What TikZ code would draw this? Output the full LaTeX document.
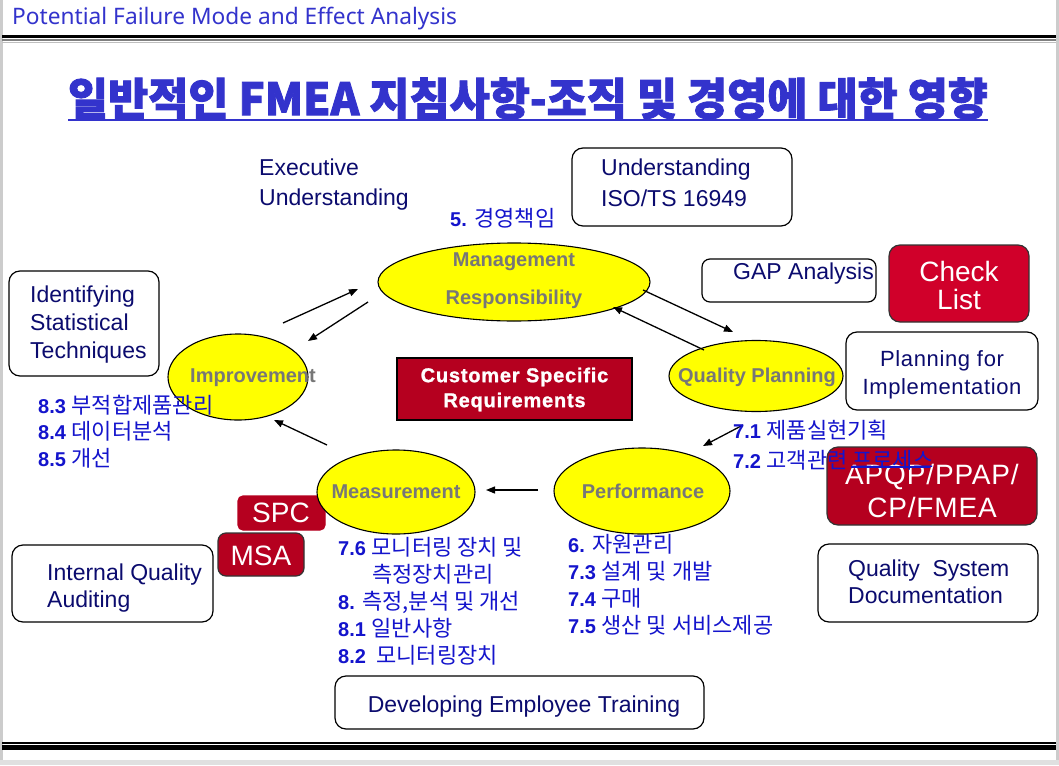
\documentclass[tikz,border=0pt]{standalone}
\usepackage{fontspec}
\setmainfont{Liberation Sans}
\newfontfamily\kr{Noto Sans CJK KR}
\newfontfamily\krt[FakeBold=2]{Noto Sans CJK KR}
\newfontfamily\hdr{Noto Sans}
\newfontfamily\spaced[LetterSpace=3]{Liberation Sans}
\newfontfamily\wideb[LetterSpace=4,FakeBold=1.2]{Liberation Sans}
\usetikzlibrary{shapes.geometric,arrows.meta}
\definecolor{hdrblue}{HTML}{3333CC}
\definecolor{navy}{HTML}{0B0B6E}
\definecolor{elgray}{HTML}{777777}
\definecolor{kblue}{HTML}{1414CC}
\definecolor{redA}{HTML}{D0002A}
\definecolor{redB}{HTML}{B5001F}
\definecolor{yel}{HTML}{FFFF00}
\tikzset{
  yellip/.style={ellipse, draw=black, line width=1.1pt, fill=yel, inner sep=0pt},
  etxt/.style={font=\fontsize{20}{20}\selectfont\bfseries, text=elgray, inner sep=0pt},
  wbox/.style={draw=black, line width=1.2pt, rounded corners=11pt, fill=white, inner sep=0pt},
  rbox/.style={draw=black!80, line width=1.2pt, rounded corners=8pt, inner sep=0pt},
  btxt/.style={font=\fontsize{23}{28}\selectfont, text=navy, align=left, inner sep=0pt},
  wtxt/.style={font=\fontsize{28}{28}\selectfont, text=white, align=center, inner sep=0pt},
  ktxt/.style={font=\fontsize{20}{27}\selectfont, text=kblue, align=left, inner sep=0pt},
  arr/.style={line width=1.3pt, -{Triangle[length=9pt,width=7pt]}},
}
\newcommand{\kn}[2]{\textbf{#1} {\kr\fontsize{22}{27}\selectfont #2}}
\begin{document}
\begin{tikzpicture}[x=1pt,y=-1pt]
\useasboundingbox (0,0) rectangle (1059,765);
\fill[white] (0,0) rectangle (1059,765);
% frame edges
\fill[black!20] (0,0) rectangle (2.5,760);
\fill[black!20] (1056,0) rectangle (1059,760);
\fill[black!12] (0,760) rectangle (1059,765);
% top rules
\fill[black] (2,35) rectangle (1056,38);
\fill[black!50] (2,38.7) rectangle (1056,41.3);
\fill[black!25] (2,41.6) rectangle (1056,42.6);
% bottom rules
\fill[black] (2,742.3) rectangle (1056,743.6);
\fill[black] (2,745) rectangle (1056,749.7);
% header
\node[anchor=west, inner sep=0pt, text=hdrblue, font=\hdr\fontsize{22.7}{23}\selectfont] (hdr) at (12,18.5) {Potential Failure Mode and Effect Analysis};
% title
\node[inner sep=0pt, text=hdrblue] (title) at (528,98.5) {\resizebox*{920pt}{42pt}{\krt\bfseries 일반적인 FMEA 지침사항-조직 및 경영에 대한 영향}};
\draw[hdrblue, line width=2.5pt] (68,120) coordinate (ul1) -- (988,120) coordinate (ul2);

% white boxes
\node[wbox, minimum width=150pt, minimum height=105pt] (bstat) at (84,323.5) {};
\node[wbox, minimum width=220pt, minimum height=78pt] (biso) at (682,187) {};
\node[wbox, minimum width=174pt, minimum height=43pt, rounded corners=8pt] (bgap) at (789,280.5) {};
\node[wbox, minimum width=192pt, minimum height=78pt] (bplan) at (942,371) {};
\node[wbox, minimum width=220pt, minimum height=78pt] (bqsd) at (928,583) {};
\node[wbox, minimum width=201pt, minimum height=77pt] (bint) at (112.5,583.5) {};
\node[wbox, minimum width=369pt, minimum height=53pt] (bdev) at (519.5,702.5) {};
% red boxes
\node[rbox, fill=redA, minimum width=140pt, minimum height=77pt, rounded corners=11pt] (bcheck) at (959,283.5) {};
\node[rbox, fill=redB, minimum width=210pt, minimum height=78pt, rounded corners=11pt] (bapqp) at (932,486) {};
\node[rbox, fill=redB, draw=redB, minimum width=87pt, minimum height=34pt, rounded corners=5pt] (bspc) at (281.5,513) {};
\node[rbox, fill=redB, minimum width=86pt, minimum height=43pt] (bmsa) at (261,554.5) {};
\node[draw=black, line width=1.2pt, fill=redB, minimum width=235pt, minimum height=62pt, inner sep=0pt] (bcsr) at (514.5,389) {};

% ellipses
\node[yellip, minimum width=272pt, minimum height=78pt] (mgmt) at (514,282) {};
\node[yellip, minimum width=140pt, minimum height=86pt] (impr) at (238,377) {};
\node[yellip, minimum width=174pt, minimum height=71pt] (qp) at (756,376) {};
\node[yellip, minimum width=176pt, minimum height=86pt] (perf) at (642,491) {};
\node[yellip, minimum width=158pt, minimum height=84pt] (meas) at (396,492) {};

% arrows
\coordinate (a1s) at (283,323); \coordinate (a1e) at (358,289);
\coordinate (a2s) at (368,302); \coordinate (a2e) at (308,341);
\coordinate (a3s) at (643,290); \coordinate (a3e) at (733,332);
\coordinate (a4s) at (704,350); \coordinate (a4e) at (613,307);
\coordinate (a5s) at (743,425); \coordinate (a5e) at (703,446);
\coordinate (a6s) at (538,490); \coordinate (a6e) at (486,490);
\coordinate (a7s) at (327,445); \coordinate (a7e) at (274,420);
\draw[arr] (a1s) -- (a1e);
\draw[arr] (a2s) -- (a2e);
\draw[arr] (a3s) -- (a3e);
\draw[arr] (a4s) -- (a4e);
\draw[arr] (a5s) -- (a5e);
\draw[arr] (a6s) -- (a6e);
\draw[arr] (a7s) -- (a7e);

% ellipse labels
\node[etxt] (tmg1) at (514,262) {Management};
\node[etxt] (tmg2) at (514,299) {Responsibility};
\node[etxt] (timp) at (253,378) {Improvement};
\node[etxt] (tqp) at (757,377) {Quality Planning};
\node[etxt] (tperf) at (643,491) {Performance};
\node[etxt] (tmeas) at (396,492) {Measurement};

% box texts
\node[btxt, anchor=west] (tstat) at (30,325) {Identifying\\Statistical\\Techniques};
\node[btxt, anchor=west, font=\fontsize{23}{30}\selectfont] (texec) at (259,185) {Executive\\Understanding};
\node[btxt, anchor=west, font=\fontsize{23}{31}\selectfont] (tiso) at (601,183) {Understanding\\ISO/TS 16949};
\node[btxt, anchor=west] (tgap) at (733,274) {GAP Analysis};
\node[btxt, align=center, font=\spaced\fontsize{22}{28}\selectfont] (tplan) at (942,375) {Planning for\\Implementation};
\node[btxt, anchor=west, font=\fontsize{23}{27}\selectfont] (tqsd) at (848,582) {Quality\ \ System\\Documentation};
\node[btxt, anchor=west, font=\fontsize{23}{27}\selectfont] (tint) at (47,588) {Internal Quality\\Auditing};
\node[btxt] (tdev) at (524,707) {Developing Employee Training};
\node[wtxt] (tcheck) at (959,285) {Check\\List};
\node[wtxt, font=\spaced\fontsize{28}{33}\selectfont] (tapqp) at (932,490.5) {APQP/PPAP/\\CP/FMEA};
\node[wtxt] (tspc) at (281,513) {SPC};
\node[wtxt] (tmsa) at (261,556) {MSA};
\node[wtxt, font=\wideb\bfseries\fontsize{20}{25}\selectfont] (tcsr) at (514.5,389.5) {Customer Specific\\Requirements};

% Korean clause texts
\node[ktxt, anchor=west] (k5) at (450,218) {\kn{5.}{경영책임}};
\node[ktxt, anchor=west, font=\fontsize{20}{26.5}\selectfont] (k8) at (38,431.5) {\kn{8.3}{부적합제품관리}\\\kn{8.4}{데이터분석}\\\kn{8.5}{개선}};
\node[ktxt, anchor=west, font=\fontsize{20}{30}\selectfont] (k7) at (733,445) {\kn{7.1}{제품실현기획}\\\kn{7.2}{고객관련 프로세스}};
\draw[kblue, line width=1.2pt] (851,467) coordinate (u1) -- (930,467) coordinate (u2);
\node[ktxt, anchor=west] (k76) at (338,601) {\kn{7.6}{모니터링 장치 및}\\\hspace*{34pt}{\kr\fontsize{22}{27}\selectfont 측정장치관리}\\\kn{8.}{측정,분석 및 개선}\\\kn{8.1}{일반사항}\\\kn{8.2}{\ 모니터링장치}};
\node[ktxt, anchor=west] (k6) at (568,584.5) {\kn{6.}{자원관리}\\\kn{7.3}{설계 및 개발}\\\kn{7.4}{구매}\\\kn{7.5}{생산 및 서비스제공}};
\end{tikzpicture}
\end{document}
